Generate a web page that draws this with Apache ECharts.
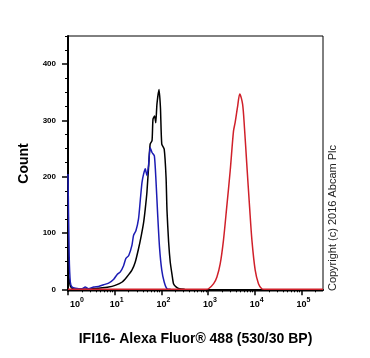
<!DOCTYPE html>
<html><head><meta charset="utf-8">
<script src="https://cdn.jsdelivr.net/npm/echarts@6/dist/echarts.min.js"></script>
<style>html,body{margin:0;padding:0;background:#fff}#c{width:370px;height:358px}</style>
</head><body><div id="c"></div>
<script>
// Fluorescence intensity (x) and count (y) for each histogram
var blackX = [1, 1.02, 1.12, 1.26, 2.0, 3.16, 4.52, 7.41, 10.2, 14.5, 18.2, 23.4, 27.5, 32.4, 37.2, 41.7, 45.2, 49.0, 53.7, 57.5, 63.1, 66.1, 71.6, 75.9, 80.4, 89.1, 95.5, 102, 115, 126, 132, 143, 155, 170, 182, 209, 245, 316];
var blackY = [0, 25, 6, 1, 0, 1, 2, 4, 7, 13, 22, 34, 48, 72, 96, 119, 143, 172, 222, 258, 264, 302, 308, 296, 329, 355, 323, 258, 249, 199, 140, 84, 48, 25, 10, 4, 1, 0];
var blueX = [1, 1.06, 1.12, 1.22, 1.45, 2.0, 2.34, 2.75, 3.55, 4.52, 5.75, 7.41, 9.55, 11.2, 13.2, 15.5, 17.4, 20, 23.4, 25.4, 28.5, 32.4, 35.5, 38.5, 41.7, 45.2, 49, 53.1, 57.5, 63.1, 70.8, 76.7, 83.2, 91.2, 102, 115, 132, 158];
var blueY = [205, 60, 13, 4, 2, 1, 4, 1, 4, 5, 8, 11, 18, 26, 31, 42, 55, 60, 78, 96, 104, 125, 160, 190, 205, 214, 202, 220, 252, 243, 237, 193, 134, 75, 34, 13, 1, 0];
var redX = [1, 900, 1023, 1318, 1549, 1820, 2138, 2512, 2985, 3508, 3802, 4266, 4786, 5495, 6026, 6761, 7762, 8710, 10233, 12023, 14125, 16000, 290000];
var redY = [0, 0, 1, 10, 22, 45, 87, 146, 211, 281, 296, 323, 347, 329, 287, 222, 146, 87, 34, 10, 1, 0, 0];
var xMajorTicks = [1, 10, 100, 1000, 10000, 100000];
var xTickExponents = ['0', '1', '2', '3', '4', '5'];
var xMinorTicks = [2, 3, 4, 5, 6, 7, 8, 9, 20, 30, 40, 50, 60, 70, 80, 90, 200, 300, 400, 500, 600, 700, 800, 900,
  2000, 3000, 4000, 5000, 6000, 7000, 8000, 9000, 20000, 30000, 40000, 50000, 60000, 70000, 80000, 90000, 200000];
var yTickLabels = [0, 100, 200, 300, 400];
var yMinorTicks = [25, 50, 75, 125, 150, 175, 225, 250, 275, 325, 350, 375, 425, 450];

function pairs(xs, ys) { return xs.map(function (x, i) { return [x, ys[i]]; }); }
var FONT = 'Liberation Sans, Arial, sans-serif';
var X_MIN = 1, X_MAX = 290000, Y_MIN = -3, Y_MAX = 450;
var gridBox = { left: 68, right: 47, top: 36, bottom: 67, outerBoundsMode: 'none' };
var chart = echarts.init(document.getElementById('c'));
chart.setOption({
  animation: false,
  grid: [
    Object.assign({ show: true, borderColor: '#000', borderWidth: 1 }, gridBox),
    Object.assign({ show: false }, gridBox)
  ],
  xAxis: [{
    gridIndex: 0, type: 'log', logBase: 10, min: X_MIN, max: X_MAX,
    name: 'IFI16- Alexa Fluor® 488 (530/30 BP)', nameLocation: 'middle', nameGap: 41,
    nameTextStyle: { fontFamily: FONT, fontWeight: 'bold', fontSize: 14, color: '#000' },
    axisLine: { lineStyle: { color: '#000', width: 2 } },
    axisTick: { length: 6, customValues: xMajorTicks, lineStyle: { color: '#000', width: 1.5 } },
    splitLine: { show: false },
    axisLabel: {
      margin: 6, customValues: xMajorTicks,
      formatter: function (v) {
        var i = xMajorTicks.indexOf(Math.round(v));
        if (i < 0) return '';
        return (i === 0 ? '{p0|}' : '{p|}') + '{b|10}{s|' + xTickExponents[i] + '}';
      },
      rich: {
        b: { fontFamily: FONT, fontWeight: 'bold', fontSize: 9, lineHeight: 16, color: '#000', verticalAlign: 'middle' },
        s: { fontFamily: FONT, fontWeight: 'bold', fontSize: 7, lineHeight: 7, color: '#000', verticalAlign: 'top' },
        p0: { width: 18, lineHeight: 16 },
        p: { width: 4, lineHeight: 16 }
      }
    }
  }, {
    gridIndex: 1, type: 'log', logBase: 10, min: X_MIN, max: X_MAX,
    axisLine: { show: false },
    axisTick: { length: 3, customValues: xMinorTicks, lineStyle: { color: '#000', width: 1 } },
    axisLabel: { show: false }, splitLine: { show: false }
  }],
  yAxis: [{
    gridIndex: 0, type: 'value', min: Y_MIN, max: Y_MAX,
    name: 'Count', nameLocation: 'middle', nameGap: 37, nameRotate: 90,
    nameTextStyle: { fontFamily: FONT, fontWeight: 'bold', fontSize: 14, color: '#000' },
    axisLine: { show: true, lineStyle: { color: '#000', width: 2 } },
    axisTick: { show: true, length: 6, customValues: yTickLabels, lineStyle: { color: '#000', width: 1.5 } },
    splitLine: { show: false },
    axisLabel: {
      margin: 12, customValues: yTickLabels, fontFamily: FONT, fontWeight: 'bold', fontSize: 8, color: '#000'
    }
  }, {
    gridIndex: 1, type: 'value', min: Y_MIN, max: Y_MAX,
    axisLine: { show: false },
    axisTick: { show: true, length: 3, customValues: yMinorTicks, lineStyle: { color: '#000', width: 1 } },
    axisLabel: { show: false }, splitLine: { show: false }
  }],
  series: [
    { type: 'line', xAxisIndex: 0, yAxisIndex: 0, data: pairs(blackX, blackY), symbol: 'none', smooth: 0.2, lineStyle: { color: '#000', width: 1.5 }, z: 2 },
    { type: 'line', xAxisIndex: 0, yAxisIndex: 0, data: pairs(blueX, blueY), symbol: 'none', smooth: 0.2, lineStyle: { color: '#1c1cb4', width: 1.5 }, z: 3 },
    { type: 'line', xAxisIndex: 0, yAxisIndex: 0, data: pairs(redX, redY), symbol: 'none', smooth: 0.3, lineStyle: { color: '#d0202a', width: 1.5 }, z: 4 }
  ],
  graphic: [{
    type: 'text', x: 333, y: 218, rotation: Math.PI / 2,
    style: { text: 'Copyright (c) 2016 Abcam Plc', fontFamily: FONT, fontSize: 11, fill: '#222', align: 'center', verticalAlign: 'middle' }
  }]
});
</script></body></html>
